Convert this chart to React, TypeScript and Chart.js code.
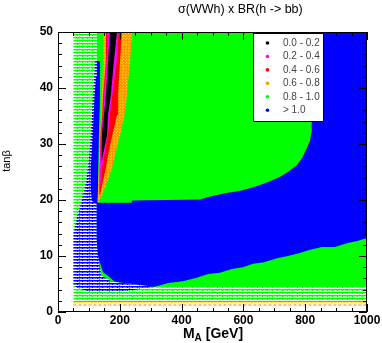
import { useEffect, useRef } from 'react';
import { Chart, registerables } from 'chart.js';

Chart.register(...registerables);

type P = [number, number]; // [M_A (GeV), tanβ]

// ---- axis data ----
const xMin = 0, xMax = 1000, xMajor = 200, xMinor = 50;
const yMin = 0, yMax = 50, yMajor = 10, yMinor = 2;

// ---- legend ----
const legendRanges = ['0.0 - 0.2', '0.2 - 0.4', '0.4 - 0.6', '0.6 - 0.8', '0.8 - 1.0', '> 1.0'];

// ---- region outlines ----
const hatchedGreen: P[] = [[50, 1.8], [1000, 1.8], [1000, 50], [50, 50]];
const solidGreen: P[] = [[126, 50], [1000, 50], [1000, 4.5], [126, 4.5]];
const hatchedBlue: P[] = [
  [50, 4.8], [50, 14], [60, 16.5], [70, 18.5], [80, 20.5], [90, 23], [98, 26], [104, 30],
  [110, 35], [116, 41], [120, 44.8], [126, 44.8], [126, 19], [125, 12], [140, 6.5],
  [175, 5.4], [240, 5.0], [314, 4.5], [265, 4.1], [200, 3.6], [100, 3.6], [65, 4.3],
];
const solidBlue: P[] = [
  [126, 44.8], [136, 44.8], [136, 38], [133, 33], [131, 28], [130, 24], [129, 21], [128, 19.5],
  [238, 19.5], [240, 19.9], [460, 20.1], [482, 20.5], [540, 21.2], [586, 21.6], [621, 22.1],
  [654, 22.7], [680, 23.2], [718, 24.1], [744, 25], [773, 26.2], [790, 27.5], [805, 29.2],
  [815, 30.5], [820, 32], [822, 34], [820, 38], [808, 42], [780, 45.5], [740, 48.5], [702, 50],
  [1000, 50], [1000, 13.2], [968, 12.7], [938, 12.3], [896, 11.6], [854, 11.6], [816, 11.1],
  [780, 10.5], [744, 10], [709, 9.6], [667, 8.9], [631, 8.6], [598, 8.0], [563, 7.7],
  [524, 7.0], [486, 6.8], [449, 6.1], [404, 5.5], [356, 5.2], [314, 4.5], [239, 5.0],
  [184, 5.4], [158, 6.6], [146, 7.1], [136, 8.75], [130, 9.8], [125, 12.9], [125, 19.3],
  [110, 19.8], [106, 22], [106, 25.7], [112, 31], [118, 38], [123, 42],
];
const orangeBand: P[] = [
  [146, 50], [146, 44.8], [142, 38.75], [140, 35.2], [135, 31.6], [133, 28], [132, 25.7],
  [130, 23.2], [129, 20.9], [128, 19.6], [130, 19.6], [142, 20.9], [159, 23.2], [175, 25.7],
  [184, 28], [201, 31.6], [215, 35.2], [223, 38.75], [233, 44.8], [240, 50],
];
const redBand: P[] = [
  [155, 50], [155, 44.8], [146, 38.75], [143, 35.2], [138, 31.6], [136, 28], [135, 25.7],
  [134, 23.2], [133, 21], [136, 21], [145, 23.2], [155, 25.7], [162, 28], [176, 31.6],
  [191, 35.2], [194, 38.75], [201, 44.8], [207, 50],
];
const magentaBand: P[] = [
  [160, 50], [157, 44.8], [149, 38.75], [146, 35.2], [139, 31.6], [137, 28], [135, 25.7],
  [135, 22.5], [138, 22.5], [142, 25.7], [150, 28], [162, 31.6], [168, 35.2], [176, 38.75],
  [190, 44.8], [196, 50],
];
const blackBand: P[] = [
  [168, 50], [162, 44.8], [155, 38.75], [149, 35.2], [142, 31.6], [140, 28], [140, 26.5],
  [142, 26.5], [145, 28], [159, 31.6], [162, 35.2], [171, 38.75], [181, 44.8], [191, 50],
];
const yellowLine: P[] = [[50, 1.65], [1000, 1.65]];
const orangeLine: P[] = [[50, 1.25], [1000, 1.25]];

const FONT = '"Liberation Sans", Arial, Helvetica, sans-serif';
const GREEN = '#00ff00';
const BLUE = '#0000ff';
const ORANGE = '#ff9900';
const RED = '#ff0000';
const MAGENTA = '#ff00ff';
const BLACK = '#000000';
const legendColors = [BLACK, MAGENTA, RED, ORANGE, GREEN, BLUE];

function makePattern(rows: string[][]): CanvasPattern | string {
  const c = document.createElement('canvas');
  c.height = rows.length;
  c.width = rows[0].length;
  const g = c.getContext('2d')!;
  rows.forEach((row, yy) => row.forEach((col, xx) => { g.fillStyle = col; g.fillRect(xx, yy, 1, 1); }));
  return g.createPattern(c, 'repeat') || rows[1][0];
}

export default function App() {
  const ref = useRef<HTMLCanvasElement>(null);
  useEffect(() => {
    const canvas = ref.current!;
    const W = '#ffffff';
    const LG = '#90ff90';
    const LB = '#7070ff';
    const greenHatch = makePattern([
      [W, W, W, W, W, W, W, W, W, LG],
      [GREEN, GREEN, GREEN, GREEN, GREEN, GREEN, GREEN, GREEN, GREEN, GREEN],
      [LG, LG, GREEN, LG, LG, LG, LG, GREEN, LG, LG],
    ]);
    const blueHatch = makePattern([
      [W, W, W, W, W, W, W, W, W, LB],
      [BLUE, BLUE, BLUE, BLUE, BLUE, BLUE, BLUE, BLUE, BLUE, BLUE],
      [LB, LB, BLUE, LB, LB, LB, LB, BLUE, LB, LB],
    ]);
    const Y = '#ffd000';
    const O = ORANGE;
    const orangeSpeck = makePattern([
      [O, O, Y],
      [O, '#ff8800', O],
      [Y, O, O],
    ]);

    const poly = (pts: P[], bg: any, label: string) => ({
      label,
      data: [...pts, pts[0]].map(([x, y]) => ({ x, y })),
      showLine: true,
      fill: 'shape' as any,
      backgroundColor: bg,
      borderColor: 'rgba(0,0,0,0)',
      borderWidth: 1,
      pointRadius: 0,
      pointHoverRadius: 0,
      tension: 0,
    });
    const line = (pts: P[], color: string, dash: number[], label: string) => ({
      label,
      data: pts.map(([x, y]) => ({ x, y })),
      showLine: true,
      fill: false,
      borderColor: color,
      borderWidth: 1,
      borderDash: dash,
      pointRadius: 0,
      pointHoverRadius: 0,
    });

    // painting order bottom -> top; Chart.js paints index 0 last, so reverse
    const painted = [
      poly(hatchedGreen, greenHatch, 'hatchedGreen'),
      poly(solidGreen, GREEN, 'solidGreen'),
      poly(hatchedBlue, blueHatch, 'hatchedBlue'),
      poly(solidBlue, BLUE, 'solidBlue'),
      poly(orangeBand, orangeSpeck, 'orange'),
      poly(redBand, RED, 'red'),
      poly(magentaBand, MAGENTA, 'magenta'),
      poly(blackBand, BLACK, 'black'),
      line(yellowLine, '#ffe000', [], 'yellow'),
      line(orangeLine, '#ff8000', [3, 2], 'orangeLine'),
    ];
    const datasets = painted.reverse();

    const rootPlugin = {
      id: 'rootDecor',
      afterDraw(chart: any) {
        const { ctx, chartArea: a, scales } = chart;
        const xs = scales.x, ys = scales.y;
        ctx.save();
        ctx.strokeStyle = '#000';
        ctx.lineWidth = 1;
        ctx.beginPath();
        for (let v = xMin; v <= xMax; v += xMinor) {
          const px = Math.round(xs.getPixelForValue(v)) + 0.5;
          const len = v % xMajor === 0 ? 8 : 4;
          ctx.moveTo(px, a.bottom); ctx.lineTo(px, a.bottom - len);
          ctx.moveTo(px, a.top); ctx.lineTo(px, a.top + len);
        }
        for (let v = yMin; v <= yMax; v += yMinor) {
          const py = Math.round(ys.getPixelForValue(v)) + 0.5;
          const len = v % yMajor === 0 ? 8 : 4;
          ctx.moveTo(a.left, py); ctx.lineTo(a.left + len, py);
          ctx.moveTo(a.right, py); ctx.lineTo(a.right - len, py);
        }
        ctx.stroke();
        ctx.strokeRect(a.left + 0.5, a.top + 0.5, a.right - a.left - 1, a.bottom - a.top - 1);

        // legend
        const lx = 253.5, ly = 33.5, lw = 70, lh = 88;
        ctx.fillStyle = '#fff';
        ctx.fillRect(lx, ly, lw, lh);
        ctx.strokeStyle = '#000';
        ctx.strokeRect(lx, ly, lw, lh);
        ctx.font = `10px ${FONT}`;
        ctx.textBaseline = 'middle';
        ctx.textAlign = 'left';
        legendRanges.forEach((t, i) => {
          const yy = 43 + i * 13.45;
          ctx.fillStyle = legendColors[i];
          ctx.beginPath();
          ctx.arc(267.5, yy, 1.8, 0, Math.PI * 2);
          ctx.fill();
          ctx.fillStyle = '#444';
          ctx.fillText(t, 283, yy);
        });

        // title
        ctx.fillStyle = '#000';
        ctx.font = `12.5px ${FONT}`;
        ctx.textBaseline = 'middle';
        ctx.fillText('σ(WWh) x BR(h -> bb)', 178, 10);

        // y title
        ctx.save();
        ctx.translate(7, 161);
        ctx.rotate(-Math.PI / 2);
        ctx.textAlign = 'center';
        ctx.font = `11px ${FONT}`;
        ctx.fillText('tanβ', 0, 0);
        ctx.restore();

        // x title with subscript
        ctx.textBaseline = 'alphabetic';
        ctx.textAlign = 'left';
        const big = `bold 14px ${FONT}`, small = `bold 10px ${FONT}`;
        ctx.font = big; const wM = ctx.measureText('M').width; const wR = ctx.measureText(' [GeV]').width;
        ctx.font = small; const wA = ctx.measureText('A').width;
        let sx = 213 - (wM + wA + wR) / 2;
        const base = 338;
        ctx.font = big; ctx.fillText('M', sx, base); sx += wM;
        ctx.font = small; ctx.fillText('A', sx, base + 3); sx += wA;
        ctx.font = big; ctx.fillText(' [GeV]', sx, base);
        ctx.restore();
      },
    };

    const chart = new Chart(canvas, {
      type: 'scatter',
      data: { datasets: datasets as any },
      options: {
        responsive: false,
        animation: false,
        events: [],
        layout: { padding: { top: 32, right: 15, left: 0, bottom: 0 } },
        plugins: { legend: { display: false }, tooltip: { enabled: false }, title: { display: false } },
        scales: {
          x: {
            type: 'linear', min: xMin, max: xMax,
            grid: { display: false, drawTicks: false },
            border: { display: false },
            ticks: {
              stepSize: xMajor, padding: 1, color: '#000',
              font: { family: FONT, size: 12, weight: 'bold' },
              callback: (v: any) => String(v),
            },
            afterFit: (s: any) => { s.height = 31; },
          },
          y: {
            type: 'linear', min: yMin, max: yMax,
            grid: { display: false, drawTicks: false },
            border: { display: false },
            ticks: {
              stepSize: yMajor, padding: 5, color: '#000',
              font: { family: FONT, size: 12, weight: 'bold' },
              callback: (v: any) => String(v),
            },
            afterFit: (s: any) => { s.width = 58; },
          },
        },
      },
      plugins: [rootPlugin],
    });
    return () => chart.destroy();
  }, []);
  return (
    <div style={{ position: 'fixed', left: 0, top: 0, width: 382, height: 343, background: '#fff' }}>
      <canvas ref={ref} width={382} height={343} style={{ display: 'block' }} />
    </div>
  );
}
